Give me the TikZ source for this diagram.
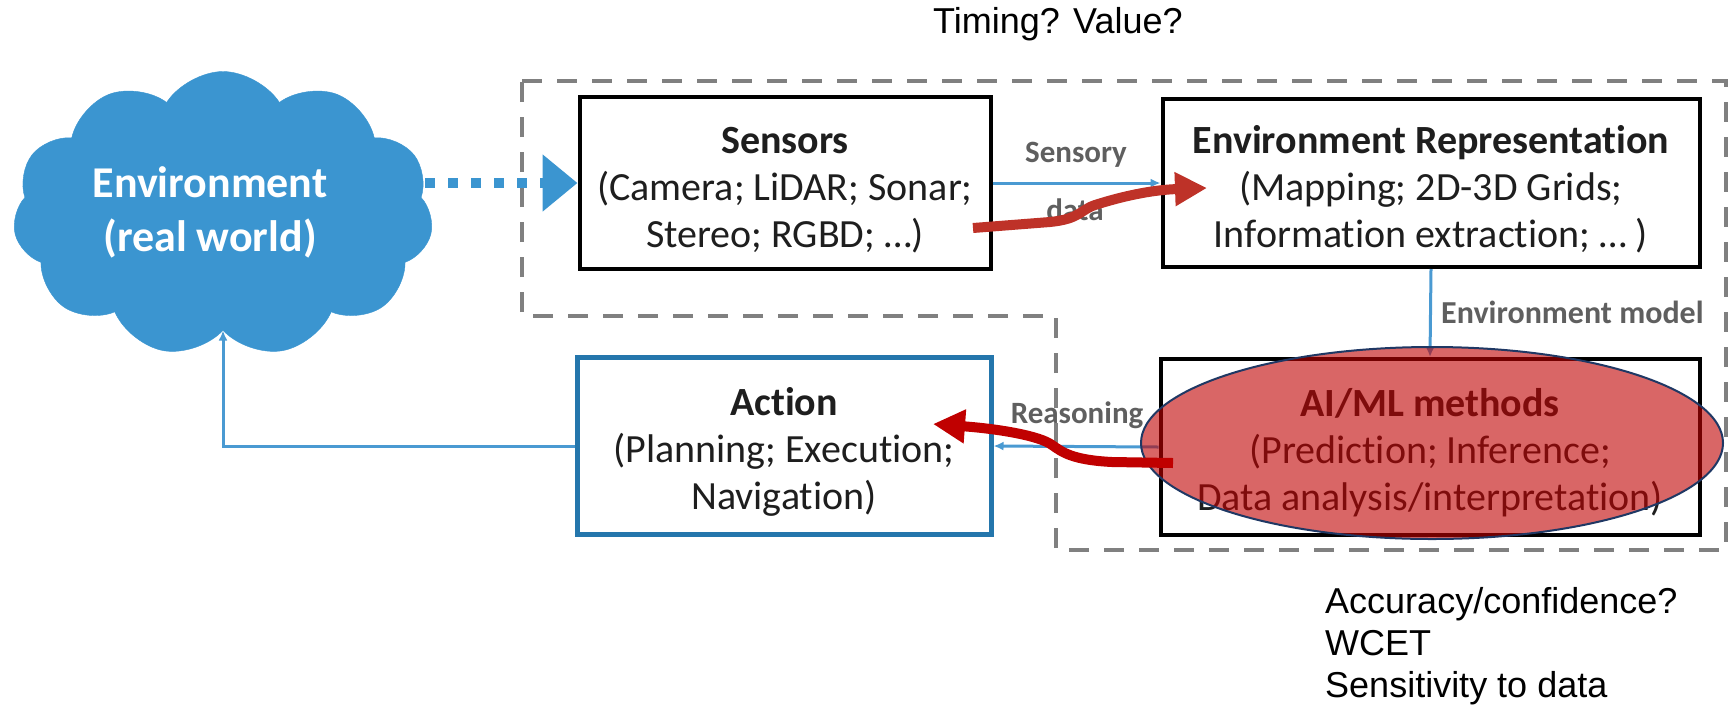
\documentclass[tikz,border=0pt]{standalone}
\usepackage{fontspec}
\setmainfont{Carlito}[Ligatures=NoCommon]
\newfontfamily\arialfont{Liberation Sans}
\usetikzlibrary{shapes.symbols,shapes.geometric,arrows.meta,calc}

\definecolor{cloudblue}{RGB}{59,149,208}
\definecolor{linkblue}{RGB}{74,154,210}
\definecolor{actblue}{RGB}{36,118,172}
\definecolor{framegray}{RGB}{128,128,128}
\definecolor{lblgray}{RGB}{95,95,95}
\definecolor{ink}{RGB}{30,30,30}
\definecolor{hotred}{RGB}{192,0,0}
\definecolor{rustred}{RGB}{190,50,40}
\definecolor{navy}{RGB}{31,56,100}

\begin{document}
\begin{tikzpicture}[x=1pt,y=-1pt,
  box/.style={draw=black, line width=4pt, fill=white, inner sep=0pt},
  actbox/.style={box, draw=actblue, line width=5pt},
  boxtext/.style={text=ink, align=center, font=\fontsize{40}{47}\selectfont, inner sep=0pt},
  conn/.style={draw=linkblue, line width=3pt, -{Latex[length=10pt,width=9pt]}},
  lbl/.style={text=lblgray, font=\fontsize{31}{36}\selectfont\bfseries, inner sep=0pt},
  redarrow/.style={line width=10pt, -{Triangle[length=32pt,width=32pt]}},
  qtext/.style={font=\arialfont\fontsize{36}{42}\selectfont, text=black, inner sep=0pt, align=left}
]
\useasboundingbox (0,0) rectangle (1731,710);

% outer dashed frame around the perception/reasoning chain
\draw[framegray, line width=4.5pt, dash pattern=on 20pt off 15pt]
  (522,81) -- (1726,81) -- (1726,550) -- (1056,550) -- (1056,316) -- (522,316) -- cycle;

% environment cloud
\node[cloud, cloud puffs=11, cloud puff arc=115, aspect=1.5, fill=cloudblue, draw=cloudblue,
  minimum width=420pt, minimum height=285pt, inner sep=0pt] (cloud) at (223,214) {};
\node[text=white, align=center, inner sep=0pt,
  font=\fontsize{44}{54}\selectfont\bfseries] (cloudtxt) at (210,212) {Environment\\(real world)};

% processing blocks
\node[box, minimum width=411pt, minimum height=172pt] (sensors) at (785,183) {};
\node[box, minimum width=537pt, minimum height=168pt] (envrep) at (1431,183) {};
\node[box, minimum width=539pt, minimum height=176pt] (aiml) at (1430,447) {};
\node[actbox, minimum width=414pt, minimum height=177pt] (action) at (784,446) {};

\node[boxtext] (sensorstxt) at ($(sensors.center)+(0,7)$)
  {\textbf{Sensors}\\(Camera; LiDAR; Sonar;\\Stereo; RGBD; …)};
\node[boxtext] (envreptxt) at ($(envrep.center)+(0,6)$)
  {\textbf{Environment Representation}\\(Mapping; 2D-3D Grids;\\Information extraction; … )};
\node[boxtext] (aimltxt) at ($(aiml.center)+(0,6)$)
  {\textbf{AI/ML methods}\\(Prediction; Inference;\\Data analysis/interpretation)};
\node[boxtext] (actiontxt) at ($(action.center)+(0,6)$)
  {\textbf{Action}\\(Planning; Execution;\\Navigation)};

% data flow
\draw[cloudblue, line width=10pt, dash pattern=on 10pt off 13pt,
  -{Triangle[length=35pt,width=55pt]}] (425,183) -- (sensors.west);
\draw[conn] (sensors.east) -- (sensors.east -| envrep.west);
\draw[conn] (envrep.south) -- (aiml.north);
\draw[conn] (aiml.west) -- (action.east);
\draw[conn] (action.west) -| (cloud.south);

% connector labels
\node[lbl] (lsens) at (1076,155) {Sensory};
\node[lbl] (ldata) at (1075,210) {data};
\node[lbl, anchor=west] (lmodel) at (1441,312) {\fontsize{32}{36}\selectfont Environment model};
\node[lbl] (lreason) at (1077,415) {Reasoning};

% highlighted AI/ML block
\node[ellipse, draw=navy, line width=2pt, fill=hotred, fill opacity=0.6,
  minimum width=582pt, minimum height=192pt] (focus) at (1432,443) {};

% red emphasis arrows
\coordinate (r1s) at (973,228);
\coordinate (r1e) at (1207,188);
\draw[redarrow, rustred] (r1s) -- (1050,222) .. controls (1080,219) and (1080,210) .. (1095,205)
  .. controls (1120,197) and (1150,190) .. (r1e);
\coordinate (r2s) at (1173,463);
\coordinate (r2e) at (933,424);
\draw[redarrow, hotred] (r2s) -- (1112,462) .. controls (1072,460) and (1062,452) .. (1052,445)
  .. controls (1040,436) and (1000,429) .. (r2e);

% open questions
\node[qtext, anchor=base west] (qtop) at (933,33) {Timing? Value?};
\node[qtext, anchor=base west] (qa) at (1325,613) {Accuracy/confidence?};
\node[qtext, anchor=base west] (qb) at (1325,655) {WCET};
\node[qtext, anchor=base west] (qc) at (1325,697) {Sensitivity to data};
\end{tikzpicture}
\end{document}
